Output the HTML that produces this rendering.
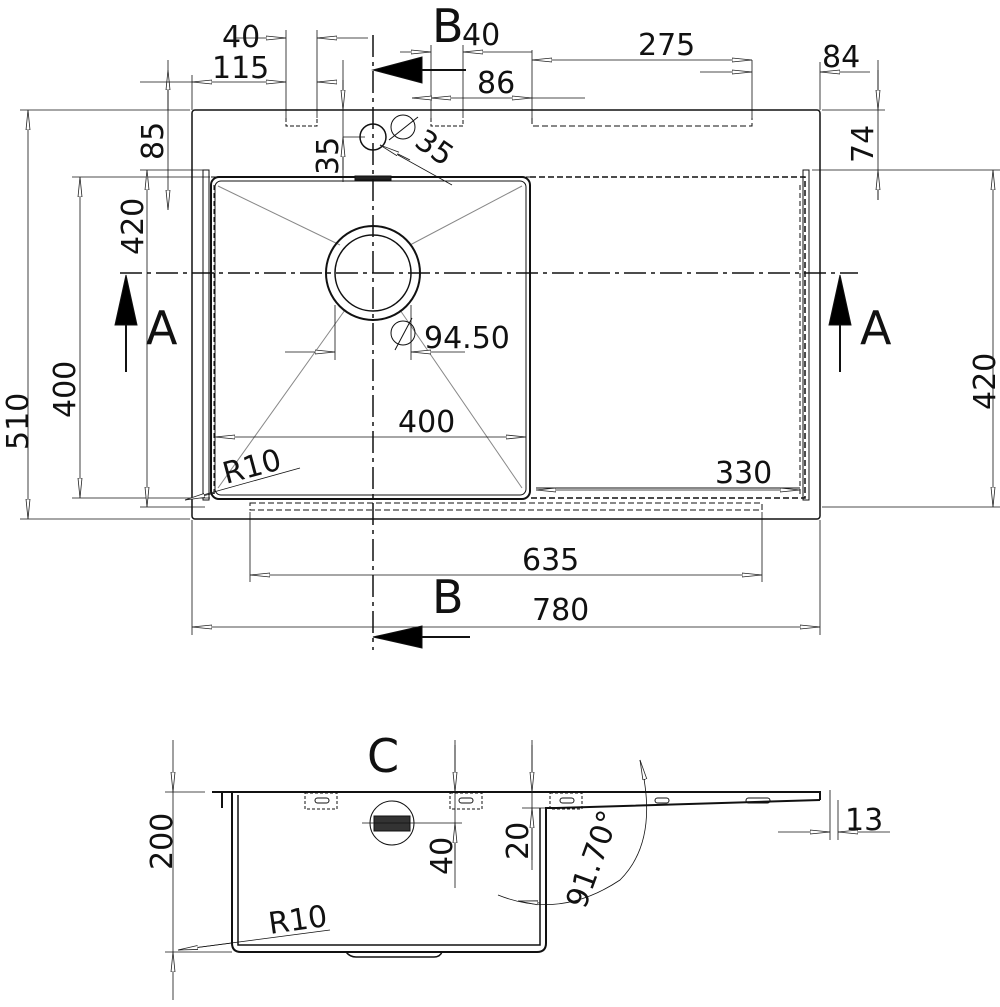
<!DOCTYPE html>
<html><head><meta charset="utf-8"><style>
html,body{margin:0;padding:0;background:#fff}
svg{display:block}
text{font-family:"DejaVu Sans","Liberation Sans",sans-serif;font-weight:normal;fill:#111}
</style></head><body>
<svg width="1000" height="1007" viewBox="0 0 1000 1007" xmlns="http://www.w3.org/2000/svg">
<defs>
<marker id="a" viewBox="0 0 20 6" refX="20" refY="3" markerWidth="20" markerHeight="6" markerUnits="userSpaceOnUse" orient="auto-start-reverse"><path d="M0,1 L20,3 L0,5 Z" fill="#fff" stroke="#222" stroke-width="0.8"/></marker>
</defs>
<g stroke="#111" fill="none" stroke-width="1">
<rect x="192" y="110" width="628" height="409" rx="3" stroke-width="1.5"/>
<rect x="211" y="177" width="319" height="322" rx="8" stroke-width="2"/>
<rect x="215" y="181" width="311" height="314" rx="6" stroke-width="1"/>
<line x1="211" y1="177" x2="530" y2="177" stroke-dasharray="6 3"/>
<path d="M530 177 H805 V498 H530" stroke-dasharray="6 3" stroke-width="1.5"/>
<line x1="536" y1="488" x2="800" y2="488"/>
<rect x="203" y="170" width="6" height="330"/>
<rect x="803" y="170" width="6" height="330"/>
<line x1="214" y1="185" x2="214" y2="495" stroke-dasharray="5 3"/>
<line x1="800" y1="185" x2="800" y2="495" stroke-dasharray="5 3"/>
<rect x="250" y="503" width="512" height="7" stroke-dasharray="6 3"/>
<path d="M286 118 V126 H317 V118" stroke-dasharray="4 2"/>
<path d="M431 118 V126 H463 V118" stroke-dasharray="4 2"/>
<path d="M532 118 V126 H752 V118" stroke-dasharray="6 3"/>
<rect x="355" y="176" width="36" height="4" fill="#222"/>
<g stroke="#888">
<line x1="218" y1="186" x2="340" y2="245"/>
<line x1="522" y1="186" x2="410" y2="245"/>
<line x1="218" y1="488" x2="345" y2="310"/>
<line x1="522" y1="488" x2="400" y2="310"/>
</g>
<circle cx="373" cy="273" r="47" stroke-width="2"/>
<circle cx="373" cy="273" r="38" stroke-width="1.5"/>
<circle cx="373" cy="137" r="13" stroke-width="1.5"/>
<circle cx="403" cy="127" r="12"/>
<line x1="389" y1="140" x2="418" y2="117"/>
<circle cx="403" cy="333" r="12"/>
<line x1="395" y1="350" x2="412" y2="318"/>
<line x1="373" y1="35" x2="373" y2="650" stroke-width="1.5" stroke-dasharray="22 5 4 5"/>
<line x1="120" y1="273" x2="858" y2="273" stroke-width="1.5" stroke-dasharray="22 5 4 5"/>
<line x1="410" y1="70" x2="466" y2="70" stroke-width="2"/>
<path d="M373 70 L422 57 L422 83 Z" fill="#000"/>
<line x1="410" y1="637" x2="470" y2="637" stroke-width="2"/>
<path d="M373 637 L422 626 L422 648 Z" fill="#000"/>
<line x1="126" y1="280" x2="126" y2="372" stroke-width="2"/>
<path d="M126 275 L115 325 L137 325 Z" fill="#000"/>
<line x1="840" y1="280" x2="840" y2="372" stroke-width="2"/>
<path d="M840 275 L829 325 L851 325 Z" fill="#000"/>
<g stroke-width="0.8">
<line x1="192" y1="520" x2="192" y2="635"/><line x1="820" y1="520" x2="820" y2="635"/>
<line x1="192" y1="627" x2="820" y2="627" marker-start="url(#a)" marker-end="url(#a)"/>
<line x1="250" y1="512" x2="250" y2="582"/><line x1="762" y1="512" x2="762" y2="582"/>
<line x1="250" y1="575" x2="762" y2="575" marker-start="url(#a)" marker-end="url(#a)"/>
<line x1="215" y1="437" x2="526" y2="437" marker-start="url(#a)" marker-end="url(#a)"/>
<line x1="536" y1="490" x2="800" y2="490" marker-start="url(#a)" marker-end="url(#a)"/>
<line x1="285" y1="352" x2="335" y2="352" marker-end="url(#a)"/>
<line x1="335" y1="305" x2="335" y2="360"/><line x1="411" y1="305" x2="411" y2="360"/>
<line x1="465" y1="352" x2="411" y2="352" marker-end="url(#a)"/>
<line x1="20" y1="110" x2="190" y2="110"/><line x1="20" y1="519" x2="190" y2="519"/>
<line x1="28" y1="110" x2="28" y2="519" marker-start="url(#a)" marker-end="url(#a)"/>
<line x1="72" y1="177" x2="210" y2="177"/><line x1="72" y1="498" x2="210" y2="498"/>
<line x1="80" y1="177" x2="80" y2="498" marker-start="url(#a)" marker-end="url(#a)"/>
<line x1="140" y1="170" x2="205" y2="170"/><line x1="140" y1="507" x2="205" y2="507"/>
<line x1="147" y1="170" x2="147" y2="507" marker-start="url(#a)" marker-end="url(#a)"/>
<line x1="812" y1="170" x2="1000" y2="170"/><line x1="822" y1="507" x2="1000" y2="507"/>
<line x1="993" y1="170" x2="993" y2="507" marker-start="url(#a)" marker-end="url(#a)"/>
<line x1="168" y1="60" x2="168" y2="170"/>
<line x1="168" y1="110" x2="168" y2="70" marker-end="url(#a)"/>
<line x1="168" y1="170" x2="168" y2="210" marker-end="url(#a)"/>
<line x1="140" y1="82" x2="192" y2="82"/>
<line x1="192" y1="82" x2="286" y2="82" marker-start="url(#a)" marker-end="url(#a)"/>
<line x1="317" y1="82" x2="337" y2="82" marker-start="url(#a)"/>
<line x1="192" y1="75" x2="192" y2="110"/>
<line x1="286" y1="30" x2="286" y2="118"/><line x1="317" y1="30" x2="317" y2="118"/>
<line x1="235" y1="38" x2="286" y2="38" marker-end="url(#a)"/>
<line x1="368" y1="38" x2="317" y2="38" marker-end="url(#a)"/>
<line x1="343" y1="60" x2="343" y2="182"/>
<line x1="343" y1="80" x2="343" y2="110" marker-end="url(#a)"/>
<line x1="343" y1="170" x2="343" y2="137" marker-end="url(#a)"/>
<line x1="343" y1="137" x2="365" y2="137"/>
<line x1="380" y1="145" x2="452" y2="185"/>
<line x1="380" y1="145" x2="410" y2="160" marker-start="url(#a)"/>
<line x1="431" y1="45" x2="431" y2="118"/><line x1="463" y1="45" x2="463" y2="118"/>
<line x1="400" y1="52" x2="431" y2="52" marker-end="url(#a)"/>
<line x1="532" y1="52" x2="463" y2="52" marker-end="url(#a)"/>
<line x1="412" y1="98" x2="431" y2="98" marker-start="url(#a)"/>
<line x1="431" y1="98" x2="532" y2="98" marker-start="url(#a)" marker-end="url(#a)"/>
<line x1="532" y1="98" x2="585" y2="98"/>
<line x1="532" y1="50" x2="532" y2="118"/><line x1="752" y1="60" x2="752" y2="118"/>
<line x1="532" y1="60" x2="752" y2="60" marker-start="url(#a)" marker-end="url(#a)"/>
<line x1="700" y1="72" x2="752" y2="72" marker-end="url(#a)"/>
<line x1="870" y1="72" x2="820" y2="72" marker-end="url(#a)"/>
<line x1="820" y1="62" x2="820" y2="110"/>
<line x1="878" y1="60" x2="878" y2="200"/>
<line x1="822" y1="110" x2="885" y2="110"/>
<line x1="878" y1="70" x2="878" y2="110" marker-end="url(#a)"/>
<line x1="878" y1="200" x2="878" y2="170" marker-end="url(#a)"/>
<line x1="185" y1="500" x2="300" y2="468"/>
<line x1="185" y1="500" x2="215" y2="493" marker-start="url(#a)"/>
</g>
<g stroke-width="1.5">
<path d="M212 792 H820 V800" stroke-width="2"/>
<line x1="222" y1="792" x2="222" y2="808" stroke-width="2"/>
<path d="M232 792 V943 Q232 952 241 952 H537 Q546 952 546 943 V808 H556 L820 800" stroke-width="2"/>
<path d="M238 795 V945 H540 V808"/>
<path d="M346 952 Q350 957 356 957 H434 Q440 957 442 952"/>
<rect x="305" y="793" width="32" height="16" stroke-dasharray="3 2" stroke-width="1"/>
<rect x="315" y="798" width="14" height="5" rx="2.5" stroke-width="1"/>
<rect x="450" y="793" width="32" height="16" stroke-dasharray="3 2" stroke-width="1"/>
<rect x="459" y="798" width="14" height="5" rx="2.5" stroke-width="1"/>
<rect x="550" y="793" width="32" height="16" stroke-dasharray="3 2" stroke-width="1"/>
<rect x="560" y="798" width="14" height="5" rx="2.5" stroke-width="1"/>
<rect x="655" y="798" width="14" height="5" rx="2.5" stroke-width="1"/>
<rect x="746" y="798" width="24" height="5" rx="2.5" stroke-width="1"/>
<circle cx="392" cy="823" r="22" stroke-width="1"/>
<rect x="374" y="816" width="36" height="15" fill="#333" stroke-width="1"/>
</g>
<g stroke-width="0.8">
<line x1="362" y1="823" x2="462" y2="823"/>
<line x1="165" y1="792" x2="205" y2="792"/><line x1="165" y1="952" x2="232" y2="952"/>
<line x1="173" y1="740" x2="173" y2="792" marker-end="url(#a)"/>
<line x1="173" y1="1000" x2="173" y2="952" marker-end="url(#a)"/>
<line x1="173" y1="792" x2="173" y2="952"/>
<line x1="455" y1="740" x2="455" y2="888"/>
<line x1="455" y1="745" x2="455" y2="792" marker-end="url(#a)"/>
<line x1="455" y1="860" x2="455" y2="823" marker-end="url(#a)"/>
<line x1="532" y1="740" x2="532" y2="870"/>
<line x1="532" y1="745" x2="532" y2="792" marker-end="url(#a)"/>
<line x1="532" y1="860" x2="532" y2="808" marker-end="url(#a)"/>
<line x1="522" y1="808" x2="546" y2="808"/>
<line x1="830" y1="790" x2="830" y2="840"/>
<line x1="778" y1="832" x2="830" y2="832" marker-end="url(#a)"/>
<line x1="890" y1="832" x2="838" y2="832" marker-end="url(#a)"/>
<line x1="838" y1="800" x2="838" y2="840"/>
<path d="M498 895 Q560 920 620 880 Q660 840 640 760"/>
<line x1="540" y1="903" x2="518" y2="901" marker-end="url(#a)"/>
<line x1="640" y1="760" x2="645" y2="780" marker-start="url(#a)"/>
<line x1="178" y1="950" x2="330" y2="930"/>
<line x1="178" y1="950" x2="232" y2="943" marker-start="url(#a)"/>
</g>
</g>
<g font-size="30">
<text x="222" y="47">40</text>
<text x="212" y="78">115</text>
<text x="462" y="45">40</text>
<text x="477" y="93">86</text>
<text x="638" y="55">275</text>
<text x="822" y="67">84</text>
<text x="424" y="348">94.50</text>
<text x="398" y="432">400</text>
<text x="715" y="483">330</text>
<text x="226" y="484" transform="rotate(-15 226 484)">R10</text>
<text x="522" y="570">635</text>
<text x="532" y="620">780</text>
<text x="845" y="830">13</text>
<text x="270" y="934" transform="rotate(-8 270 934)">R10</text>
<text transform="translate(163,160) rotate(-90)">85</text>
<text transform="translate(143,255) rotate(-90)">420</text>
<text transform="translate(75,418) rotate(-90)">400</text>
<text transform="translate(28,450) rotate(-90)">510</text>
<text transform="translate(338,175) rotate(-90)">35</text>
<text transform="translate(413,145) rotate(35)">35</text>
<text transform="translate(873,163) rotate(-90)">74</text>
<text transform="translate(995,410) rotate(-90)">420</text>
<text transform="translate(172,870) rotate(-90)">200</text>
<text transform="translate(452,875) rotate(-90)">40</text>
<text transform="translate(528,860) rotate(-90)">20</text>
<text transform="translate(585,910) rotate(-70)">91.70°</text>
</g>
<g font-size="46">
<text x="432" y="42">B</text>
<text x="432" y="613">B</text>
<text x="146" y="344">A</text>
<text x="860" y="344">A</text>
<text x="367" y="772">C</text>
</g>
</svg>
</body></html>
